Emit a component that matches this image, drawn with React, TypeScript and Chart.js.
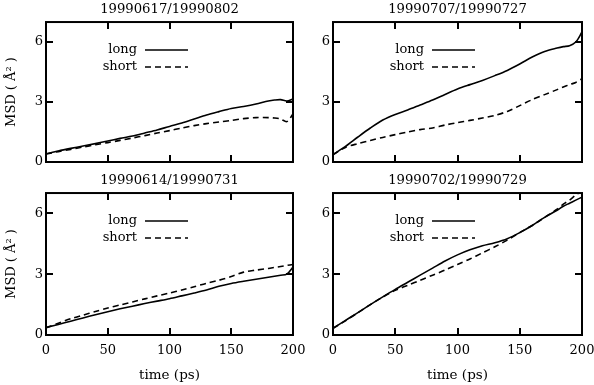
import React, { useEffect, useRef } from "react";
import { Chart, registerables } from "chart.js";

Chart.register(...registerables);

// ---- data ----
const TIME = [0, 10, 20, 30, 40, 50, 60, 70, 80, 90, 100, 110, 120, 130, 140, 150, 160, 170, 180, 185, 190, 195, 200];

const TITLES = ["19990617/19990802", "19990707/19990727", "19990614/19990731", "19990702/19990729"];
const SERIES_LABELS = ["long", "short"];

const LONG_0617 = [0.4, 0.55, 0.68, 0.8, 0.92, 1.05, 1.18, 1.3, 1.45, 1.6, 1.78, 1.95, 2.15, 2.35, 2.52, 2.68, 2.78, 2.9, 3.05, 3.1, 3.12, 3.05, 3.15];
const SHORT_0617 = [0.4, 0.52, 0.63, 0.75, 0.86, 0.97, 1.08, 1.2, 1.32, 1.45, 1.57, 1.7, 1.82, 1.92, 2.0, 2.08, 2.17, 2.22, 2.22, 2.2, 2.15, 2.02, 2.4];

const LONG_0707 = [0.37, 0.78, 1.25, 1.7, 2.1, 2.38, 2.6, 2.85, 3.1, 3.38, 3.65, 3.87, 4.08, 4.32, 4.58, 4.9, 5.25, 5.53, 5.7, 5.77, 5.82, 6.0, 6.5];
const SHORT_0707 = [0.37, 0.73, 0.92, 1.08, 1.23, 1.37, 1.5, 1.62, 1.7, 1.85, 1.97, 2.08, 2.2, 2.33, 2.53, 2.82, 3.12, 3.37, 3.62, 3.75, 3.87, 3.98, 4.17];

const LONG_0614 = [0.36, 0.52, 0.68, 0.84, 1.0, 1.15, 1.29, 1.42, 1.55, 1.67, 1.79, 1.93, 2.07, 2.22, 2.4, 2.54, 2.65, 2.75, 2.85, 2.9, 2.95, 3.0, 3.35];
const SHORT_0614 = [0.36, 0.58, 0.8, 0.98, 1.16, 1.33, 1.48, 1.63, 1.78, 1.93, 2.07, 2.22, 2.38, 2.55, 2.7, 2.88, 3.1, 3.2, 3.28, 3.33, 3.38, 3.43, 3.48];

const LONG_0702 = [0.33, 0.72, 1.1, 1.5, 1.88, 2.25, 2.6, 2.95, 3.3, 3.65, 3.95, 4.2, 4.4, 4.55, 4.75, 5.05, 5.4, 5.8, 6.15, 6.35, 6.5, 6.65, 6.8];
const SHORT_0702 = [0.33, 0.7, 1.1, 1.5, 1.87, 2.2, 2.45, 2.7, 2.95, 3.2, 3.48, 3.75, 4.05, 4.35, 4.68, 5.05, 5.4, 5.8, 6.2, 6.45, 6.65, 6.9, 7.1];

const PANELS = [
  [LONG_0617, SHORT_0617],
  [LONG_0707, SHORT_0707],
  [LONG_0614, SHORT_0614],
  [LONG_0702, SHORT_0702],
];

const X_TICKS = [0, 50, 100, 150, 200];
const Y_TICKS = [0, 3, 6];
const X_MIN = 0, X_MAX = 200, Y_MIN = 0, Y_MAX = 7;
const X_TITLE = "time (ps)";
const Y_TITLE = "MSD ( Å² )";

const W = 594, H = 385;
const FONT = "'DejaVu Serif', serif";

const framePlugin = {
  id: "frameTicks",
  afterDatasetsDraw(chart: any) {
    const { ctx, chartArea, scales } = chart;
    const { left, right, top, bottom } = chartArea;
    const tl = 7;
    ctx.save();
    ctx.strokeStyle = "#000";
    ctx.lineWidth = 2;
    ctx.beginPath();
    scales.x.ticks.forEach((t: any) => {
      const px = Math.round(scales.x.getPixelForValue(t.value));
      ctx.moveTo(px, bottom); ctx.lineTo(px, bottom - tl);
      ctx.moveTo(px, top); ctx.lineTo(px, top + tl);
    });
    scales.y.ticks.forEach((t: any) => {
      const py = Math.round(scales.y.getPixelForValue(t.value));
      ctx.moveTo(left, py); ctx.lineTo(left + tl, py);
      ctx.moveTo(right, py); ctx.lineTo(right - tl, py);
    });
    ctx.stroke();
    ctx.strokeRect(left, top, right - left, bottom - top);
    // legend, gnuplot style
    ctx.font = "13px " + FONT;
    ctx.fillStyle = "#000";
    ctx.textAlign = "right";
    ctx.textBaseline = "middle";
    chart.data.datasets.forEach((ds: any, i: number) => {
      const y = top + 28 + 17 * i;
      ctx.fillText(ds.label, left + 91, y);
      ctx.beginPath();
      ctx.lineWidth = ds.borderWidth;
      ctx.setLineDash(ds.borderDash || []);
      ctx.moveTo(left + 99, y);
      ctx.lineTo(left + 142, y);
      ctx.stroke();
      ctx.setLineDash([]);
    });
    ctx.restore();
  },
};

function makeConfig(idx: number): any {
  const isLeft = idx % 2 === 0;
  const isBottom = idx >= 2;
  const area = {
    left: isLeft ? 46 : 333,
    right: isLeft ? 293 : 582,
    top: isBottom ? 193 : 22,
    bottom: isBottom ? 335 : 162,
  };
  const yW = isLeft ? 46 : 20;
  const xH = isBottom ? 50 : 0;
  const titleH = 22;
  const [longV, shortV] = PANELS[idx];
  return {
    type: "line",
    data: {
      datasets: [
        {
          label: SERIES_LABELS[0],
          data: TIME.map((t, i) => ({ x: t, y: longV[i] })),
          borderColor: "#000",
          borderWidth: 1.6,
          pointRadius: 0,
          tension: 0.3,
          fill: false,
        },
        {
          label: SERIES_LABELS[1],
          data: TIME.map((t, i) => ({ x: t, y: shortV[i] })),
          borderColor: "#000",
          borderWidth: 1.6,
          borderDash: [6, 4],
          pointRadius: 0,
          tension: 0.3,
          fill: false,
        },
      ],
    },
    options: {
      animation: false,
      responsive: false,
      maintainAspectRatio: false,
      events: [],
      layout: {
        padding: {
          left: area.left - yW,
          right: W - area.right,
          top: area.top - titleH,
          bottom: H - area.bottom - xH,
        },
      },
      plugins: {
        legend: { display: false },
        tooltip: { enabled: false },
        title: {
          display: true,
          text: TITLES[idx],
          fullSize: false,
          color: "#000",
          font: { family: FONT, size: 13.2, weight: "normal", lineHeight: 1.2 },
          padding: { top: 2, bottom: 4.2 },
        },
      },
      scales: {
        x: {
          type: "linear",
          min: X_MIN,
          max: X_MAX,
          afterBuildTicks: (s: any) => { s.ticks = X_TICKS.map((v) => ({ value: v })); },
          afterFit: (s: any) => { s.height = xH; s.paddingLeft = 0; s.paddingRight = 0; },
          grid: { display: false, drawTicks: false },
          border: { display: false },
          ticks: {
            display: isBottom,
            color: "#000",
            padding: 8,
            maxRotation: 0,
            autoSkip: false,
            font: { family: FONT, size: 13 },
          },
          title: {
            display: isBottom,
            text: X_TITLE,
            color: "#000",
            font: { family: FONT, size: 13.5, lineHeight: 1.2 },
            padding: { top: 0, bottom: 1 },
          },
        },
        y: {
          type: "linear",
          min: Y_MIN,
          max: Y_MAX,
          afterBuildTicks: (s: any) => { s.ticks = Y_TICKS.map((v) => ({ value: v })); },
          afterFit: (s: any) => { s.width = yW; s.paddingTop = 0; s.paddingBottom = 0; },
          grid: { display: false, drawTicks: false },
          border: { display: false },
          ticks: {
            color: "#000",
            padding: 3,
            font: { family: FONT, size: 13 },
          },
          title: {
            display: isLeft,
            text: Y_TITLE,
            color: "#000",
            font: { family: FONT, size: 13, lineHeight: 1.2 },
            padding: { top: 4, bottom: 0 },
          },
        },
      },
    },
    plugins: [framePlugin],
  };
}

function Panel({ idx }: { idx: number }) {
  const ref = useRef<HTMLCanvasElement | null>(null);
  useEffect(() => {
    if (!ref.current) return;
    const chart = new Chart(ref.current, makeConfig(idx));
    return () => chart.destroy();
  }, [idx]);
  return (
    <canvas
      ref={ref}
      width={W}
      height={H}
      style={{ position: "absolute", left: 0, top: 0, width: W, height: H }}
    />
  );
}

export default function App() {
  return (
    <div style={{ position: "fixed", left: 0, top: 0, width: W, height: H, background: "#fff" }}>
      {[0, 1, 2, 3].map((i) => (
        <Panel key={i} idx={i} />
      ))}
    </div>
  );
}
